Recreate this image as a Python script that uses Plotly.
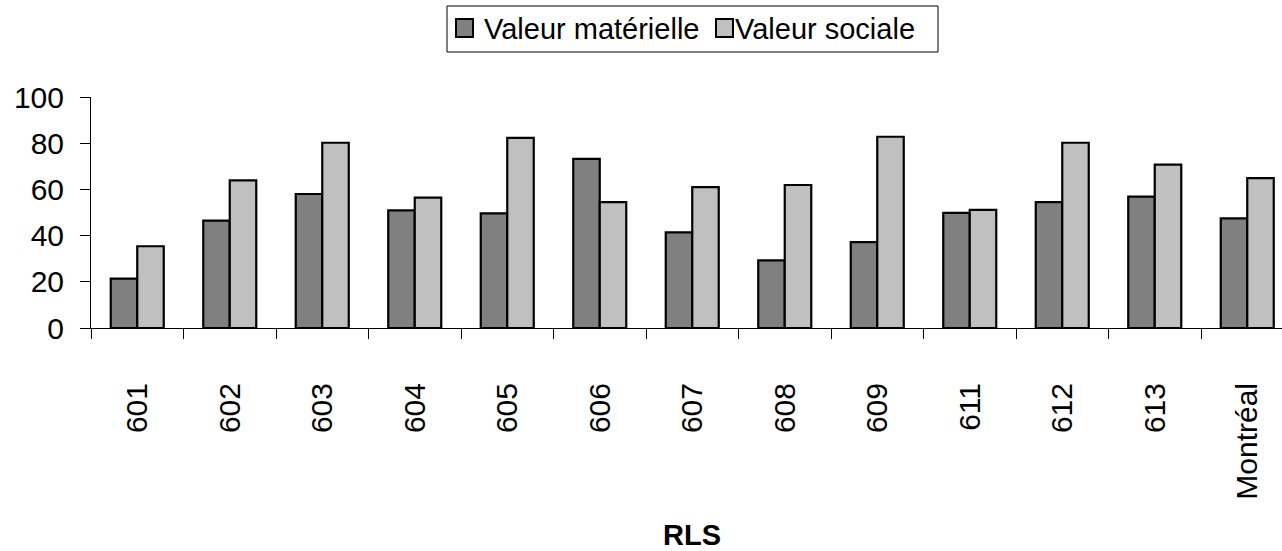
import plotly.graph_objects as go

# RLS territories and the two deprivation-style indices
categories = ["601", "602", "603", "604", "605", "606", "607", "608", "609",
              "611", "612", "613", "Montréal"]
valeur_materielle = [21.4, 46.5, 58.0, 50.9, 49.6, 73.2, 41.4, 29.3, 37.2,
                     49.8, 54.5, 56.9, 47.5]
valeur_sociale = [35.4, 63.9, 80.2, 56.4, 82.3, 54.5, 61.0, 61.9, 82.8,
                  51.1, 80.2, 70.7, 64.9]
series_names = ["Valeur matérielle", "Valeur sociale"]
y_ticks = [0, 20, 40, 60, 80, 100]

W, H = 1282, 551
ML, MR, MT, MB = 91, 0, 97, 223
PW = W - ML - MR
PH = H - MT - MB
FONT = "Liberation Sans, Arial, sans-serif"
DARK = "#808080"
LIGHT = "#C0C0C0"


def px_x(x):
    return (x - ML) / PW


def px_y(y):
    return (H - MB - y) / PH


fig = go.Figure()
fig.add_trace(go.Bar(x=categories, y=valeur_materielle, name=series_names[0],
                     marker=dict(color=DARK, line=dict(color="black", width=2.2)),
                     showlegend=False))
fig.add_trace(go.Bar(x=categories, y=valeur_sociale, name=series_names[1],
                     marker=dict(color=LIGHT, line=dict(color="black", width=2.2)),
                     showlegend=False))

# hand-built legend box above the plot
shapes = [
    dict(type="rect", xref="paper", yref="paper",
         x0=px_x(447), x1=px_x(938), y0=px_y(52), y1=px_y(6),
         line=dict(color="black", width=1), fillcolor="white"),
    dict(type="rect", xref="paper", yref="paper",
         x0=px_x(456), x1=px_x(473), y0=px_y(37), y1=px_y(19),
         line=dict(color="black", width=2), fillcolor=DARK),
    dict(type="rect", xref="paper", yref="paper",
         x0=px_x(716), x1=px_x(733), y0=px_y(37), y1=px_y(19),
         line=dict(color="black", width=2), fillcolor=LIGHT),
]
annotations = [
    dict(text=series_names[0], xref="paper", yref="paper",
         x=px_x(482), y=px_y(29), xanchor="left", yanchor="middle",
         showarrow=False, font=dict(family=FONT, size=29, color="black")),
    dict(text=series_names[1], xref="paper", yref="paper",
         x=px_x(733), y=px_y(29), xanchor="left", yanchor="middle",
         showarrow=False, font=dict(family=FONT, size=29, color="black")),
    dict(text="<b>RLS</b>", xref="paper", yref="paper",
         x=px_x(692), y=px_y(535), xanchor="center", yanchor="middle",
         showarrow=False, font=dict(family=FONT, size=29, color="black")),
]

fig.update_layout(
    width=W, height=H,
    margin=dict(l=ML, r=MR, t=MT, b=MB, pad=0),
    paper_bgcolor="white", plot_bgcolor="white",
    barmode="group", bargap=0.427, bargroupgap=0,
    font=dict(family=FONT, size=28, color="black"),
    shapes=shapes, annotations=annotations,
)
fig.update_xaxes(
    type="category", categoryorder="array", categoryarray=categories,
    range=[-0.5, -0.5 + PW / 92.5],
    showline=True, linecolor="black", linewidth=1,
    ticks="outside", tickson="boundaries", ticklen=10, tickcolor="black",
    tickangle=-90, tickfont=dict(family=FONT, size=30),
    ticklabelstandoff=42,
    showgrid=False, zeroline=False,
)
fig.update_yaxes(
    range=[0, 100], tickvals=y_ticks,
    showline=True, linecolor="black", linewidth=1,
    ticks="outside", ticklen=10, tickcolor="black",
    tickfont=dict(family=FONT, size=30),
    ticklabelstandoff=10,
    showgrid=False, zeroline=False,
)

fig.write_html("out.html")
